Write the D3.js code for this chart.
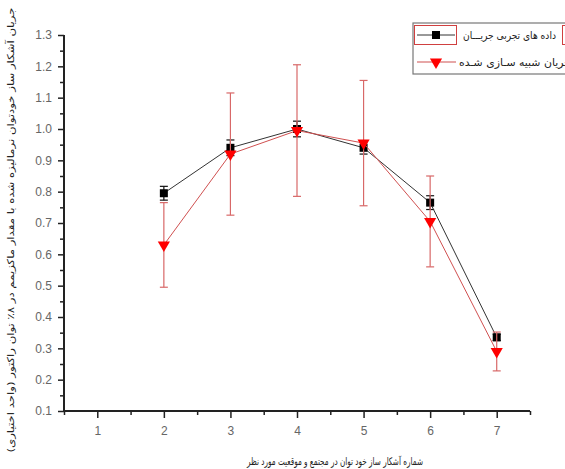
<!DOCTYPE html>
<html>
<head>
<meta charset="utf-8">
<script src="https://cdn.jsdelivr.net/npm/d3@7"></script>
<style>
  body { margin: 0; background: #fff; }
  svg { display: block; }
  .tick text { font-family: "Liberation Sans", Arial, sans-serif; font-size: 12px; fill: #666; }
  .fa { font-family: "DejaVu Sans", sans-serif; fill: #222; }
</style>
</head>
<body>
<div id="chart"></div>
<script>
// data
var detectors = [2, 3, 4, 5, 6, 7];
var expValues = [0.795, 0.94, 1.0, 0.94, 0.765, 0.335];
var expErrors = [0.022, 0.025, 0.025, 0.02, 0.022, 0.01];
var simValues = [0.63, 0.92, 0.995, 0.955, 0.705, 0.29];
var simErrors = [0.135, 0.195, 0.21, 0.2, 0.145, 0.062];
var xTicks = [1, 2, 3, 4, 5, 6, 7];
var yTicks = [0.1, 0.2, 0.3, 0.4, 0.5, 0.6, 0.7, 0.8, 0.9, 1.0, 1.1, 1.2, 1.3];
var legendLabels = ["داده های تجربی جریـــان", "جریان شبیه سـازی شـده"];
var xTitle = "شماره آشکار ساز خود توان در مجتمع و موقعیت مورد نظر";
var yTitle = "جریان آشکار ساز خودتوان نرمالیزه شده با مقدار ماکزیمم در ۸٪ توان راکتور (واحد اختیاری)";

var svgWidth = 565;
var svgHeight = 469;

var svg = d3.select("#chart")
  .append("svg")
  .attr("width", svgWidth)
  .attr("height", svgHeight);

// Scales //
var x = d3.scaleLinear().domain([0.5, 7.5]).range([64, 530]);
var y = d3.scaleLinear().domain([0.1, 1.3]).range([411, 35]);

var expData = detectors.map(function(d, i) { return {x: d, v: expValues[i], e: expErrors[i]}; });
var simData = detectors.map(function(d, i) { return {x: d, v: simValues[i], e: simErrors[i]}; });

// Axes //
var minorX = d3.range(0.5, 7.6, 0.5).filter(function(v) { return v % 1 !== 0; });
var minorY = d3.range(0.15, 1.3, 0.1);

svg.append("g")
  .attr("transform", "translate(0,411)")
  .call(d3.axisBottom(x).tickValues(minorX).tickSize(4).tickFormat(""))
  .call(function(g) { g.select(".domain").remove(); });

svg.append("g")
  .attr("transform", "translate(0,411)")
  .call(d3.axisBottom(x).tickValues(xTicks).tickSize(7).tickPadding(8).tickFormat(d3.format("d")))
  .call(function(g) {
    g.select(".domain").attr("stroke", "#222").attr("stroke-width", 2).attr("d", "M64,0H530");
  });

svg.append("g")
  .attr("transform", "translate(64,0)")
  .call(d3.axisLeft(y).tickValues(minorY).tickSize(4).tickFormat(""))
  .call(function(g) { g.select(".domain").remove(); });

svg.append("g")
  .attr("transform", "translate(64,0)")
  .call(d3.axisLeft(y).tickValues(yTicks).tickSize(6).tickPadding(6).tickFormat(d3.format(".1f")))
  .call(function(g) {
    g.select(".domain").attr("stroke", "#222").attr("stroke-width", 2).attr("d", "M0,411V35");
  });

svg.selectAll(".tick line").attr("stroke", "#222").attr("stroke-width", 1.5);

// Lines //
var line = d3.line().x(function(d) { return x(d.x); }).y(function(d) { return y(d.v); });

function errorBars(data, color, cls) {
  var g = svg.append("g").attr("class", cls).attr("stroke", color).attr("stroke-width", 1.2);
  g.selectAll("line.v").data(data).enter().append("line")
    .attr("x1", function(d) { return x(d.x); })
    .attr("x2", function(d) { return x(d.x); })
    .attr("y1", function(d) { return y(d.v - d.e); })
    .attr("y2", function(d) { return y(d.v + d.e); });
  g.selectAll("line.t").data(data).enter().append("line")
    .attr("x1", function(d) { return x(d.x) - 4; })
    .attr("x2", function(d) { return x(d.x) + 4; })
    .attr("y1", function(d) { return y(d.v + d.e); })
    .attr("y2", function(d) { return y(d.v + d.e); });
  g.selectAll("line.b").data(data).enter().append("line")
    .attr("x1", function(d) { return x(d.x) - 4; })
    .attr("x2", function(d) { return x(d.x) + 4; })
    .attr("y1", function(d) { return y(d.v - d.e); })
    .attr("y2", function(d) { return y(d.v - d.e); });
}

errorBars(expData, "#111", "exp-err");

svg.append("path")
  .datum(expData)
  .attr("fill", "none")
  .attr("stroke", "#333")
  .attr("stroke-width", 1)
  .attr("d", line);

svg.selectAll("rect.sq")
  .data(expData)
  .enter()
  .append("rect")
  .attr("x", function(d) { return x(d.x) - 4; })
  .attr("y", function(d) { return y(d.v) - 4; })
  .attr("width", 8)
  .attr("height", 8)
  .attr("fill", "#000");

svg.append("path")
  .datum(simData)
  .attr("fill", "none")
  .attr("stroke", "#d05050")
  .attr("stroke-width", 1)
  .attr("d", line);

errorBars(simData, "#d86868", "sim-err");

var tri = d3.symbol().type(d3.symbolTriangle).size(64);
svg.selectAll("path.tri")
  .data(simData)
  .enter()
  .append("path")
  .attr("d", tri)
  .attr("transform", function(d) { return "translate(" + x(d.x) + "," + y(d.v) + ") rotate(180)"; })
  .attr("fill", "#ff0000");

// Legend //
var lg = svg.append("g");
lg.append("rect")
  .attr("x", 413).attr("y", 23).attr("width", 200).attr("height", 51)
  .attr("fill", "#fff").attr("stroke", "#777").attr("stroke-width", 1.2);
lg.append("rect")
  .attr("x", 414.5).attr("y", 25.5).attr("width", 42).attr("height", 19)
  .attr("fill", "none").attr("stroke", "#d04040").attr("stroke-width", 1);
lg.append("rect")
  .attr("x", 562.5).attr("y", 25.5).attr("width", 20).attr("height", 19)
  .attr("fill", "none").attr("stroke", "#d04040").attr("stroke-width", 1);

lg.append("line").attr("x1", 417).attr("x2", 455).attr("y1", 35).attr("y2", 35)
  .attr("stroke", "#333").attr("stroke-width", 1);
lg.append("rect").attr("x", 432).attr("y", 31).attr("width", 8).attr("height", 8).attr("fill", "#000");
lg.append("line").attr("x1", 417).attr("x2", 456).attr("y1", 62).attr("y2", 62)
  .attr("stroke", "#d05050").attr("stroke-width", 1.2);
lg.append("path").attr("d", tri)
  .attr("transform", "translate(436,62) rotate(180)")
  .attr("fill", "#ff0000");

// first label fits inside the box, the second one runs past the window edge as in the source
lg.append("text")
  .attr("class", "fa")
  .attr("x", 463)
  .attr("y", 39)
  .attr("font-size", 10.5)
  .attr("direction", "ltr")
  .attr("textLength", 93)
  .attr("lengthAdjust", "spacingAndGlyphs")
  .text(legendLabels[0]);

lg.append("text")
  .attr("class", "fa")
  .attr("x", 459)
  .attr("y", 66)
  .attr("font-size", 10.5)
  .attr("direction", "ltr")
  .attr("textLength", 112)
  .attr("lengthAdjust", "spacingAndGlyphs")
  .text(legendLabels[1]);

// Axis titles //
svg.append("text")
  .attr("class", "fa")
  .attr("x", 335)
  .attr("y", 465)
  .attr("text-anchor", "middle")
  .attr("font-size", 10.5)
  .attr("textLength", 176)
  .attr("lengthAdjust", "spacingAndGlyphs")
  .text(xTitle);

svg.append("text")
  .attr("class", "fa")
  .attr("transform", "translate(14,230) rotate(-90)")
  .attr("text-anchor", "middle")
  .attr("font-size", 9.5)
  .attr("textLength", 445)
  .attr("lengthAdjust", "spacingAndGlyphs")
  .text(yTitle);
</script>
</body>
</html>
